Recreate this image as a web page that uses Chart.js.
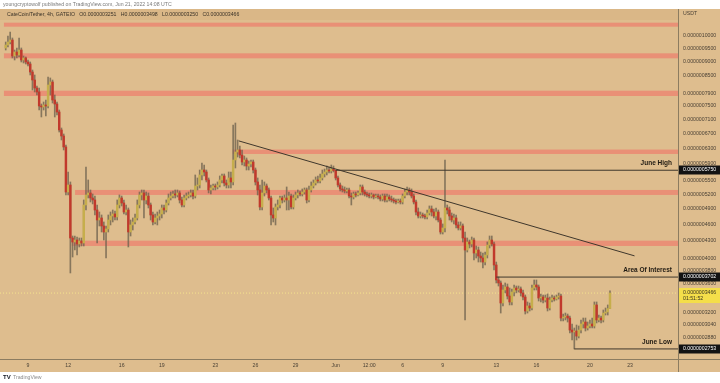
<!DOCTYPE html>
<html><head><meta charset="utf-8">
<script src="https://cdn.jsdelivr.net/npm/chart.js@4.4.0/dist/chart.umd.min.js"></script>
<style>html,body{margin:0;padding:0;background:#fff;overflow:hidden}#wrap{width:720px;height:383px;position:relative}</style>
</head><body><div id="wrap"><canvas id="c" width="720" height="383"></canvas></div>
<script>
// prices in units of 1e-10 USDT (4h candles, index 0 = May 7 08:00)
const UNIT = 1e-10;
const OPEN = [9518,9636,9755,9836,9209,9362,9247,9439,9058,9134,
8984,8910,8621,8341,8071,7939,7494,7463,7525,7494,
8171,8273,7681,7556,7310,6788,6622,6329,5257,5411,
4349,4278,4313,4243,4296,4260,4983,5193,5236,5129,
5087,4881,4684,4723,4570,4458,4514,4684,4762,4802,
4743,4983,5129,5024,4841,4881,4458,4589,4646,4723,
4983,5193,5236,5087,5171,4983,4782,4646,4723,4762,
4802,4922,4881,5024,5129,5171,5214,5193,5236,5087,
4983,5129,5171,5193,5236,5171,5389,5411,5639,5756,
5709,5524,5301,5345,5389,5367,5411,5524,5616,5456,
5411,5570,5479,5998,6199,6251,6123,5949,5998,5852,
5900,5949,5756,5479,5301,4942,5236,5389,5301,5129,
4782,4723,4942,4983,5129,5087,5129,5087,5171,4942,
5129,5193,5236,5214,5257,5301,5087,5301,5389,5456,
5524,5501,5570,5662,5709,5756,5732,5780,5745,5570,
5411,5323,5301,5279,5301,5171,5150,5214,5193,5236,
5367,5257,5214,5193,5171,5193,5150,5171,5150,5108,
5171,5087,5150,5108,5087,5066,5045,5066,5045,5171,
5257,5301,5257,5171,5045,4841,4762,4782,4762,4743,
4821,4902,4841,4762,4841,4684,4458,4533,4922,4881,
4762,4684,4723,4589,4533,4570,4349,4139,4278,4243,
4313,4088,4139,4038,4005,3939,4055,4225,4313,4243,
3891,3658,3613,3327,3510,3554,3424,3341,3481,3539,
3510,3525,3467,3410,3219,3286,3259,3539,3583,3554,
3396,3410,3368,3396,3259,3368,3396,3382,3410,3424,
3127,3140,3153,3127,2976,2952,2964,2903,2976,3051,
3076,3001,3026,3051,3026,3300,3102,3127,3102,3192,
3206,3251];
const HIGH = [9755,10000,10166,9918,9439,9518,9918,9518,9209,9171,
9058,8984,8692,8515,8138,8071,7556,7618,7681,8445,
8411,8341,7841,7618,7371,6844,6677,6381,5709,5479,
4385,4385,4367,4349,4349,5087,5828,5524,5301,5214,
5171,4983,4841,4782,4646,4570,4782,4841,4881,4861,
5087,5193,5171,5087,4983,4922,4684,4723,4802,5087,
5257,5301,5301,5257,5236,5024,4841,4802,4841,4881,
4983,4983,5087,5214,5257,5279,5301,5301,5279,5150,
5193,5236,5257,5301,5301,5639,5570,5756,5925,5876,
5756,5570,5411,5434,5434,5479,5616,5662,5662,5524,
5709,5709,6929,6986,6514,6355,6251,6098,6048,5974,
5998,5998,5804,5570,5411,5524,5479,5434,5345,5171,
4922,5004,5087,5171,5171,5193,5367,5257,5214,5193,
5257,5301,5279,5323,5345,5345,5389,5479,5524,5593,
5616,5662,5756,5780,5852,5828,5876,5852,5750,5616,
5456,5389,5367,5345,5345,5236,5257,5257,5279,5411,
5411,5301,5257,5236,5236,5214,5214,5214,5193,5214,
5214,5214,5193,5171,5129,5108,5108,5108,5214,5323,
5367,5345,5323,5214,5087,4922,4841,4821,4802,4881,
4963,4963,4902,4922,4881,4723,4608,5998,4983,4942,
4821,4802,4782,4646,4646,4608,4458,4349,4313,4367,
4349,4208,4191,4105,4088,4105,4278,4385,4385,4278,
3939,3702,3643,3583,3613,3598,3539,3525,3583,3568,
3568,3554,3510,3438,3341,3327,3583,3658,3658,3583,
3453,3438,3438,3453,3410,3438,3424,3438,3467,3453,
3179,3192,3179,3153,3051,3001,3038,3026,3102,3127,
3127,3076,3102,3127,3341,3341,3166,3153,3232,3259,
3300,3498];
const LOW = [9439,9557,9676,9134,9058,9134,9171,8984,8947,8910,
8837,8515,8004,7939,7841,7371,7162,7371,7191,7433,
7841,7587,7162,7221,6732,6514,6251,5193,5193,3765,
4021,4139,4055,4191,4208,4208,4881,5129,5045,5004,
4782,4260,4570,4458,4313,4005,4458,4589,4646,4684,
4684,4922,4963,4802,4782,4191,4385,4495,4608,4684,
4922,5087,4723,5004,4922,4684,4589,4608,4589,4684,
4723,4802,4841,4983,5087,5129,5129,5150,5024,4942,
4942,5087,5129,5150,5108,5129,5301,5345,5524,5616,
5479,5236,5214,5301,5301,5323,5367,5456,5389,5345,
5345,5345,5411,5804,6073,6048,5876,5852,5756,5756,
5828,5685,5411,5193,4881,4881,5171,5236,5087,4589,
4646,4589,4881,4922,5024,5045,4881,4881,4902,4902,
5087,5129,5171,5171,5214,5024,5045,5257,5345,5411,
5456,5456,5524,5593,5639,5685,5685,5709,5524,5367,
5279,5257,5236,5236,5129,4983,5108,5150,5171,5193,
5193,5171,5150,5129,5129,5108,5129,5108,5066,5066,
5045,5045,5066,5045,5024,5004,5024,5004,5004,5129,
5193,5193,5129,5004,4782,4723,4723,4723,4704,4704,
4782,4762,4723,4684,4646,4421,4421,4458,4802,4684,
4646,4608,4533,4495,4495,4278,3102,4105,4174,4191,
3972,4005,3939,3939,3843,3891,4005,4174,4208,3812,
3613,3568,3192,3286,3467,3382,3300,3300,3424,3467,
3481,3424,3368,3179,3192,3219,3232,3510,3510,3354,
3341,3327,3341,3219,3232,3341,3354,3368,3382,3089,
3089,3102,3076,2940,2856,2753,2856,2880,2940,3001,
2964,2976,3001,3001,3001,3064,3076,3064,3076,3166,
3166,3250];
const CLOSE = [9636,9755,9836,9209,9362,9247,9439,9058,9134,8984,
8910,8621,8341,8071,7939,7494,7463,7525,7494,8171,
8273,7681,7556,7310,6788,6622,6329,5257,5411,4349,
4278,4313,4243,4296,4260,4983,5193,5236,5129,5087,
4881,4684,4723,4570,4458,4514,4684,4762,4802,4743,
4983,5129,5024,4841,4881,4458,4589,4646,4723,4983,
5193,5236,5087,5171,4983,4782,4646,4723,4762,4802,
4922,4881,5024,5129,5171,5214,5193,5236,5087,4983,
5129,5171,5193,5236,5171,5389,5411,5639,5756,5709,
5524,5301,5345,5389,5367,5411,5524,5616,5456,5411,
5570,5479,5998,6199,6251,6123,5949,5998,5852,5900,
5949,5756,5479,5301,4942,5236,5389,5301,5129,4782,
4723,4942,4983,5129,5087,5129,5087,5171,4942,5129,
5193,5236,5214,5257,5301,5087,5301,5389,5456,5524,
5501,5570,5662,5709,5756,5732,5780,5745,5570,5411,
5323,5301,5279,5301,5171,5150,5214,5193,5236,5367,
5257,5214,5193,5171,5193,5150,5171,5150,5108,5171,
5087,5150,5108,5087,5066,5045,5066,5045,5171,5257,
5301,5257,5171,5045,4841,4762,4782,4762,4743,4821,
4902,4841,4762,4841,4684,4458,4533,4922,4881,4762,
4684,4723,4589,4533,4570,4349,4139,4278,4243,4313,
4088,4139,4038,4005,3939,4055,4225,4313,4243,3891,
3658,3613,3327,3510,3554,3424,3341,3481,3539,3510,
3525,3467,3410,3219,3286,3259,3539,3583,3554,3396,
3410,3368,3396,3259,3368,3396,3382,3410,3424,3127,
3140,3153,3127,2976,2952,2964,2903,2976,3051,3076,
3001,3026,3051,3026,3300,3102,3127,3102,3192,3206,
3251,3466];

const X_TICKS = [10,28,52,70,94,112,130,148,163,178,196,220,238,262,280];
const X_LABELS = ['9','12','16','19','23','26','29','Jun','12:00','6','9','13','16','20','23'];
const Y_TICKS = [10000,9500,9000,8500,7900,7500,7100,6700,6300,5900,5500,5200,4900,4600,4300,4000,3800,3600,3200,3040,2880];

const ZONE_LO = [10391,9121,7809,6149,5193,4208];
const ZONE_HI = [10564,9311,7981,6262,5301,4301];
const ZONE_START = [-0.8,-0.8,-0.8,101.8,31.1,29.6];

const LEVELS = [5750,3702,2753];
const LEVEL_NAMES = ['June High','Area Of Interest','June Low'];
const LEVEL_START = [148,220,255];

const TREND_X = [104.5,282];
const TREND_Y = [6490,4040];

const LAST_PRICE = 3466;
const COUNTDOWN = '01:51:52';
const HEADER = 'youngcryptowolf published on TradingView.com, Jun 21, 2022 14:08 UTC';
const LEGEND = 'CateCoin/Tether, 4h, GATEIO   O0.0000003251   H0.0000003498   L0.0000003250   C0.0000003466';

const Y_MIN = 2641, Y_MAX = 11177;
const X_MIN = -2.56, X_MAX = 301.5;

const BG = '#DEBD8E';
const UP = '#C6AE4C';
const DOWN = '#C1392C';
const WICK = 'rgba(112,100,80,0.8)';
const FONT = '"Liberation Sans", Arial, sans-serif';

const idx = OPEN.map((_, i) => i);
const fmt = v => (v * UNIT).toFixed(10);

const wickData = idx.map(i => ({x: i, y: [LOW[i] * UNIT, HIGH[i] * UNIT]}));
const bodyData = idx.map(i => ({x: i, y: [Math.min(OPEN[i], CLOSE[i]) * UNIT, Math.max(OPEN[i], CLOSE[i]) * UNIT]}));
const bodyColors = idx.map(i => CLOSE[i] >= OPEN[i] ? UP : DOWN);

const lineDs = LEVELS.map((lv, k) => ({
  type: 'line', data: [{x: LEVEL_START[k], y: lv * UNIT}, {x: X_MAX, y: lv * UNIT}],
  borderColor: '#3f372c', borderWidth: 1, pointRadius: 0, order: 0
}));

const bgPlugin = {
  id: 'tv',
  beforeDraw(chart) {
    const c = chart.ctx;
    c.save();
    c.fillStyle = '#ffffff'; c.fillRect(0, 0, 720, 383);
    c.fillStyle = BG; c.fillRect(0, 9, 720, 363);
    c.fillStyle = 'rgba(190,140,80,0.10)'; c.fillRect(0, 9, 678, 11);
    c.restore();
  },
  beforeDatasetsDraw(chart) {
    const c = chart.ctx, xs = chart.scales.x, ys = chart.scales.y, a = chart.chartArea;
    c.save();
    c.beginPath(); c.rect(a.left, a.top, a.right - a.left, a.bottom - a.top); c.clip();
    c.fillStyle = 'rgba(242,108,98,0.55)';
    ZONE_LO.forEach((lo, k) => {
      const x0 = xs.getPixelForValue(ZONE_START[k]);
      const y0 = ys.getPixelForValue(ZONE_HI[k] * UNIT), y1 = ys.getPixelForValue(lo * UNIT);
      c.fillRect(x0, y0, a.right - x0, y1 - y0);
    });
    c.restore();
  },
  afterDraw(chart) {
    const c = chart.ctx, ys = chart.scales.y, a = chart.chartArea;
    c.save();
    // borders
    c.strokeStyle = '#8c7c60'; c.lineWidth = 1;
    c.beginPath(); c.moveTo(a.right + 0.5, 9); c.lineTo(a.right + 0.5, 372); c.stroke();
    c.beginPath(); c.moveTo(0, a.bottom + 0.5); c.lineTo(720, a.bottom + 0.5); c.stroke();
    // level labels
    c.font = 'bold 6.5px ' + FONT; c.fillStyle = '#1f1a12'; c.textAlign = 'right'; c.textBaseline = 'alphabetic';
    LEVELS.forEach((lv, k) => {
      const y = ys.getPixelForValue(lv * UNIT);
      c.fillText(LEVEL_NAMES[k], a.right - 6, y - 5);
    });
    // axis boxes
    c.textAlign = 'left'; c.textBaseline = 'middle'; c.font = '5.2px ' + FONT;
    LEVELS.forEach(lv => {
      const y = Math.round(ys.getPixelForValue(lv * UNIT));
      c.fillStyle = '#131313'; c.fillRect(a.right + 1, y - 4.5, 41, 9);
      c.fillStyle = '#ffffff'; c.fillText(fmt(lv), a.right + 5, y);
    });
    const yp = Math.round(ys.getPixelForValue(LAST_PRICE * UNIT));
    c.fillStyle = '#F4DE4A'; c.fillRect(a.right + 1, yp - 5, 41, 15);
    c.fillStyle = '#3a3420';
    c.fillText(fmt(LAST_PRICE), a.right + 5, yp);
    c.fillText(COUNTDOWN, a.right + 5, yp + 6);
    // header texts
    c.textBaseline = 'middle';
    c.fillStyle = '#7a7a7a'; c.font = '5.2px ' + FONT; c.fillText(HEADER, 3, 4.5);
    c.fillStyle = '#3b3328'; c.fillText(LEGEND, 7, 15);
    c.fillStyle = '#4b4236'; c.fillText('USDT', a.right + 5, 14);
    // footer logo
    c.fillStyle = '#131722'; c.font = 'bold 6px ' + FONT; c.fillText('TV', 3, 377.5);
    c.fillStyle = '#8a8a8a'; c.font = '5.2px ' + FONT; c.fillText('TradingView', 13, 377.5);
    c.restore();
  }
};

new Chart(document.getElementById('c'), {
  type: 'bar',
  data: {
    datasets: [
      {type: 'line', data: [{x: X_MIN, y: LAST_PRICE * UNIT}, {x: X_MAX, y: LAST_PRICE * UNIT}],
       borderColor: 'rgba(250,232,140,0.9)', borderWidth: 1, borderDash: [1, 2], pointRadius: 0, order: 5},
      {data: wickData, backgroundColor: WICK, barThickness: 1, grouped: false, order: 3},
      {data: bodyData, backgroundColor: bodyColors, barThickness: 1.8, grouped: false, minBarLength: 1, order: 2},
      ...lineDs,
      {type: 'line', data: [{x: TREND_X[0], y: TREND_Y[0] * UNIT}, {x: TREND_X[1], y: TREND_Y[1] * UNIT}],
       borderColor: '#3f372c', borderWidth: 1, pointRadius: 0, order: 0}
    ]
  },
  options: {
    responsive: false, animation: false, devicePixelRatio: 1,
    layout: {padding: {top: 9, bottom: 11, left: 0, right: 0}},
    plugins: {legend: {display: false}, tooltip: {enabled: false}},
    events: [],
    scales: {
      x: {
        type: 'linear', min: X_MIN, max: X_MAX, offset: false,
        afterBuildTicks: s => { s.ticks = X_TICKS.map(v => ({value: v})); },
        afterFit: s => { s.height = 13; },
        grid: {display: false, drawTicks: false}, border: {display: false},
        ticks: {autoSkip: false, maxRotation: 0, callback: (v, i) => X_LABELS[i],
                font: {size: 5.2, family: FONT}, color: '#4b4236', padding: 3}
      },
      y: {
        type: 'logarithmic', position: 'right', min: Y_MIN * UNIT, max: Y_MAX * UNIT,
        afterBuildTicks: s => { s.ticks = Y_TICKS.map(v => ({value: v * UNIT})); },
        afterFit: s => { s.width = 42; },
        grid: {display: false, drawTicks: false}, border: {display: false},
        ticks: {autoSkip: false, callback: v => v.toFixed(10),
                font: {size: 5.2, family: FONT}, color: '#4b4236', padding: 5}
      }
    }
  },
  plugins: [bgPlugin]
});
</script></body></html>
